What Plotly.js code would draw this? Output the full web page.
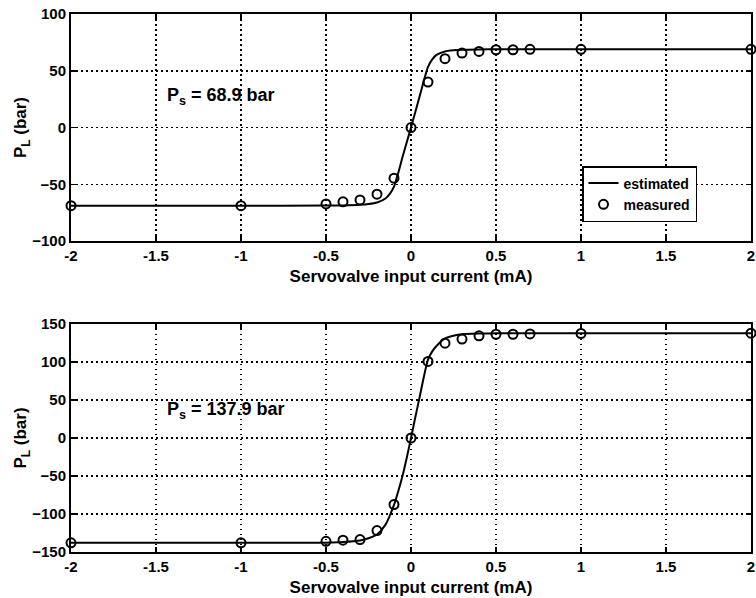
<!DOCTYPE html>
<html>
<head>
<meta charset="utf-8">
<script src="https://cdn.plot.ly/plotly-3.0.1.min.js"></script>
<style>html,body{margin:0;padding:0;background:#fff;}#chart{width:756px;height:598px;}</style>
</head>
<body>
<div id="chart"></div>
<script>
// Measured input currents (mA)
const measuredX = [-2, -1, -0.5, -0.4, -0.3, -0.2, -0.1, 0, 0.1, 0.2, 0.3, 0.4, 0.5, 0.6, 0.7, 1, 2];
// Top panel, Ps = 68.9 bar
const measuredTop = [-68.9, -68.9, -67.3, -65.5, -63.8, -58.7, -44.6, 0, 40, 60.6, 65.6, 67, 68.5, 68.5, 68.9, 68.9, 68.9];
const estX_top = [-2, -1, -0.5, -0.4, -0.3, -0.25, -0.2, -0.15, -0.125, -0.1, -0.075, -0.05, -0.025, 0, 0.025, 0.05, 0.075, 0.1, 0.125, 0.15, 0.2, 0.25, 0.3, 0.4, 0.5, 1, 2];
const estTop = [-68.9, -68.9, -68.8, -68.6, -68.1, -67.4, -66, -62.5, -58.5, -52, -40, -26, -13, 0, 13.5, 27, 41, 53.5, 60, 64, 67, 68, 68.5, 68.8, 68.9, 68.9, 68.9];
// Bottom panel, Ps = 137.9 bar
const measuredBottom = [-137.9, -137.9, -136, -134.5, -133.6, -121.8, -87.5, 0, 100.7, 124.8, 130.1, 134.5, 136.5, 136.5, 137, 137.5, 137.9];
const estX_bottom = [-2, -1, -0.5, -0.4, -0.3, -0.25, -0.2, -0.15, -0.1, -0.075, -0.05, -0.025, 0, 0.025, 0.05, 0.075, 0.1, 0.125, 0.15, 0.2, 0.25, 0.3, 0.4, 0.5, 1, 2];
const estBottom = [-137.9, -137.9, -137.7, -137, -135, -132, -127, -114, -88, -70, -50, -26, 0, 27, 53, 80, 103, 114, 121, 131, 134.5, 136.5, 137.4, 137.7, 137.9, 137.9];

const xTicks = [-2, -1.5, -1, -0.5, 0, 0.5, 1, 1.5, 2];
const yTicksTop = [-100, -50, 0, 50, 100];
const yTicksBottom = [-150, -100, -50, 0, 50, 100, 150];
const xTitle = 'Servovalve input current (mA)';
const yTitle = 'P<sub>L</sub> (bar)';

const FONT = 'Liberation Sans, Arial, Helvetica, sans-serif';

const traces = [
  {x: estX_top, y: estTop, xaxis: 'x', yaxis: 'y', mode: 'lines', name: 'estimated',
   line: {color: '#000', width: 2, shape: 'spline', smoothing: 0.6}, showlegend: true, cliponaxis: false},
  {x: measuredX, y: measuredTop, xaxis: 'x', yaxis: 'y', mode: 'markers', name: 'measured',
   marker: {symbol: 'circle-open', size: 9, color: '#000', line: {width: 2, color: '#000'}}, showlegend: true, cliponaxis: false},
  {x: estX_bottom, y: estBottom, xaxis: 'x2', yaxis: 'y2', mode: 'lines', name: 'estimated',
   line: {color: '#000', width: 2, shape: 'spline', smoothing: 0.6}, showlegend: false, cliponaxis: false},
  {x: measuredX, y: measuredBottom, xaxis: 'x2', yaxis: 'y2', mode: 'markers', name: 'measured',
   marker: {symbol: 'circle-open', size: 9, color: '#000', line: {width: 2, color: '#000'}}, showlegend: false, cliponaxis: false}
];

function xa(anchor) {
  return {
    anchor: anchor, range: [-2, 2], tickvals: xTicks, ticktext: xTicks.map(String),
    showgrid: true, gridcolor: '#000', gridwidth: 1.5, griddash: '1.5px,3.5px',
    zeroline: false, showline: true, linecolor: '#000', linewidth: 2, mirror: 'ticks',
    ticks: 'inside', ticklen: 5, tickwidth: 1.5, tickcolor: '#000',
    tickfont: {family: FONT, size: 15, color: '#000', weight: 'bold'},
    title: {text: xTitle, font: {family: FONT, size: 17, color: '#000', weight: 'bold'}, standoff: 7}
  };
}
function ya(domain, range, ticks, anchor) {
  return {
    anchor: anchor, domain: domain, range: range, tickvals: ticks,
    showgrid: true, gridcolor: '#000', gridwidth: 1.5, griddash: '1.5px,3.5px',
    zeroline: false, showline: true, linecolor: '#000', linewidth: 2, mirror: 'ticks',
    ticks: 'inside', ticklen: 5, tickwidth: 1.5, tickcolor: '#000',
    tickfont: {family: FONT, size: 15, color: '#000', weight: 'bold'},
    title: {text: yTitle, font: {family: FONT, size: 17, color: '#000', weight: 'bold'}, standoff: 1}
  };
}

const layout = {
  width: 756, height: 598,
  margin: {l: 71, r: 5, t: 14, b: 46},
  paper_bgcolor: '#fff', plot_bgcolor: '#fff',
  font: {family: FONT, color: '#000'},
  xaxis: xa('y'),
  yaxis: ya([0.578, 1], [-100, 100], yTicksTop, 'x'),
  xaxis2: xa('y2'),
  yaxis2: ya([0, 0.4238], [-150, 150], yTicksBottom, 'x2'),
  showlegend: true,
  legend: {
    x: 0.9206, xanchor: 'right', y: 0.6654, yanchor: 'middle',
    bgcolor: '#fff', bordercolor: '#000', borderwidth: 1.5,
    font: {family: FONT, size: 14, color: '#000', weight: 'bold'},
    tracegroupgap: 0, itemwidth: 30
  },
  annotations: [
    {text: 'P<sub>s</sub> = 68.9 bar', x: -1.45, y: 27, xref: 'x', yref: 'y', xanchor: 'left', yanchor: 'middle',
     showarrow: false, font: {family: FONT, size: 18, color: '#000', weight: 'bold'}},
    {text: 'P<sub>s</sub> = 137.9 bar', x: -1.45, y: 36, xref: 'x2', yref: 'y2', xanchor: 'left', yanchor: 'middle',
     showarrow: false, font: {family: FONT, size: 18, color: '#000', weight: 'bold'}}
  ]
};

Plotly.newPlot('chart', traces, layout, {displayModeBar: false, staticPlot: true});
</script>
</body>
</html>
